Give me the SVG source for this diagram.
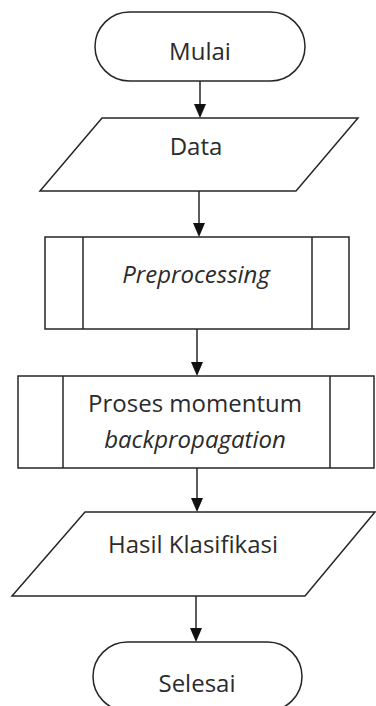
<svg xmlns="http://www.w3.org/2000/svg" width="376" height="706" viewBox="0 0 376 706">
<style>
.s{fill:#fff;stroke:#262626;stroke-width:1.5}
.t{font-family:"Open Sans","Liberation Sans",sans-serif;font-size:24px;fill:#2b2b2b;text-anchor:middle}
.i{font-style:italic}
.c{stroke:#262626;stroke-width:1.5;fill:none}
.h{fill:#111}
</style>
<rect width="376" height="706" fill="#fff"/>
<g id="connectors">
<line class="c" x1="200" y1="81" x2="200" y2="104"/><path class="h" d="M194,104 L206,104 L200,118 Z"/>
<line class="c" x1="199" y1="191" x2="199" y2="223"/><path class="h" d="M193,223 L205,223 L199,237 Z"/>
<line class="c" x1="197" y1="329" x2="197" y2="362"/><path class="h" d="M191,362 L203,362 L197,376 Z"/>
<line class="c" x1="197" y1="468" x2="197" y2="498"/><path class="h" d="M191,498 L203,498 L197,512 Z"/>
<line class="c" x1="196" y1="596" x2="196" y2="628"/><path class="h" d="M190,628 L202,628 L196,642 Z"/>
</g>
<g id="mulai">
<rect class="s" x="95" y="12" width="210" height="69" rx="34.5"/>
<text class="t" x="200" y="60">Mulai</text>
</g>
<g id="data">
<polygon class="s" points="102,118 358,118 296,191 40,191"/>
<text class="t" x="196" y="155">Data</text>
</g>
<g id="preprocessing">
<rect class="s" x="45" y="237" width="304" height="92"/>
<line class="c" x1="83" y1="237" x2="83" y2="329"/>
<line class="c" x1="312" y1="237" x2="312" y2="329"/>
<text class="t i" x="196" y="283">Preprocessing</text>
</g>
<g id="momentum">
<rect class="s" x="18" y="376" width="356" height="92"/>
<line class="c" x1="63" y1="376" x2="63" y2="468"/>
<line class="c" x1="330" y1="376" x2="330" y2="468"/>
<text class="t" x="195" y="412">Proses momentum</text>
<text class="t i" x="195" y="448">backpropagation</text>
</g>
<g id="hasil">
<polygon class="s" points="85,512 375,512 305,596 12,596"/>
<text class="t" x="193" y="553">Hasil Klasifikasi</text>
</g>
<g id="selesai">
<rect class="s" x="93" y="642" width="209" height="69" rx="34.5"/>
<text class="t" x="197" y="692">Selesai</text>
</g>
</svg>
